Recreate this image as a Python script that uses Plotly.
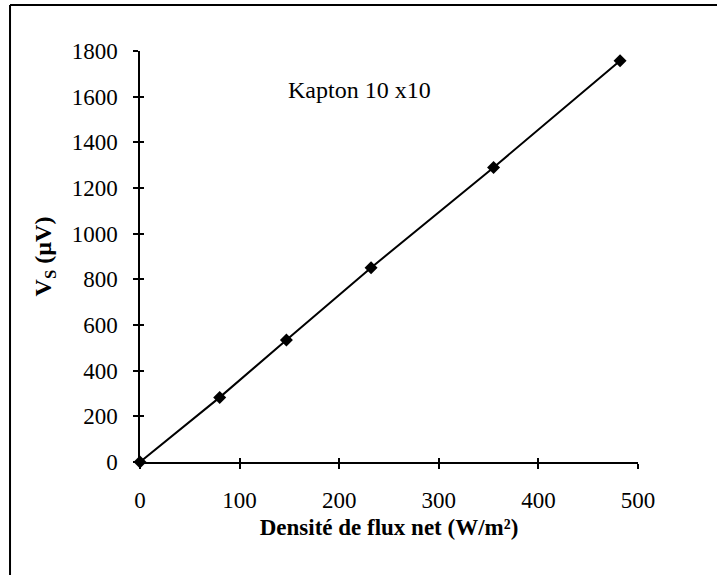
import plotly.graph_objects as go

# Measured sensor output vs. net heat flux density
flux = [0, 80, 147, 232, 355, 482]          # W/m²
voltage = [0, 283, 534, 851, 1290, 1757]    # µV

x_ticks = [0, 100, 200, 300, 400, 500]
y_ticks = [0, 200, 400, 600, 800, 1000, 1200, 1400, 1600, 1800]

SERIF = "Liberation Serif"

fig = go.Figure()
fig.add_trace(go.Scatter(
    x=flux, y=voltage, mode="lines+markers",
    line=dict(color="black", width=2),
    marker=dict(symbol="diamond", size=10, color="black"),
    cliponaxis=False, showlegend=False,
))
# invisible trace so the inner-tick overlay axes get drawn
fig.add_trace(go.Scatter(x=[None], y=[None], xaxis="x2", yaxis="y2",
                         showlegend=False, hoverinfo="skip"))

axis_common = dict(showgrid=False, zeroline=False, linecolor="black",
                   linewidth=1.5, tickcolor="black", tickwidth=1.5)

fig.update_layout(
    width=717, height=575,
    margin=dict(l=140, r=79, t=51, b=113),
    paper_bgcolor="white", plot_bgcolor="white",
    font=dict(family=SERIF, color="black", size=23),
    xaxis=dict(range=[0, 500], tickvals=x_ticks, ticks="outside", ticklen=5,
               showline=True, ticklabelstandoff=12,
               title=dict(text="<b>Densité de flux net (W/m²)</b>",
                          font=dict(size=23, family=SERIF), standoff=7),
               tickfont=dict(size=23, family=SERIF), **axis_common),
    yaxis=dict(range=[0, 1800], tickvals=y_ticks, ticks="outside", ticklen=5,
               showline=True, ticklabelstandoff=11,
               title=dict(text="<b>V<sub>S</sub> (µV)</b>",
                          font=dict(size=24, family=SERIF), standoff=13),
               tickfont=dict(size=23, family=SERIF), **axis_common),
    xaxis2=dict(overlaying="x", matches="x", range=[0, 500], tickvals=x_ticks,
                ticks="inside", ticklen=4, showticklabels=False, showline=False,
                showgrid=False, zeroline=False, tickcolor="black", tickwidth=1.5),
    yaxis2=dict(overlaying="y", matches="y", range=[0, 1800], tickvals=y_ticks,
                ticks="inside", ticklen=4, showticklabels=False, showline=False,
                showgrid=False, zeroline=False, tickcolor="black", tickwidth=1.5),
    annotations=[dict(text="Kapton 10 x10", x=220, y=1630, xref="x", yref="y",
                      showarrow=False, font=dict(size=24, family=SERIF))],
    shapes=[
        # page frame: top and left edges
        dict(type="line", xref="paper", yref="paper", x0=-0.261, x1=1.2,
             y0=1.112, y1=1.112, line=dict(color="black", width=2)),
        dict(type="line", xref="paper", yref="paper", x0=-0.261, x1=-0.261,
             y0=1.112, y1=-0.3, line=dict(color="black", width=2)),
    ],
)

fig.write_html("out.html")
